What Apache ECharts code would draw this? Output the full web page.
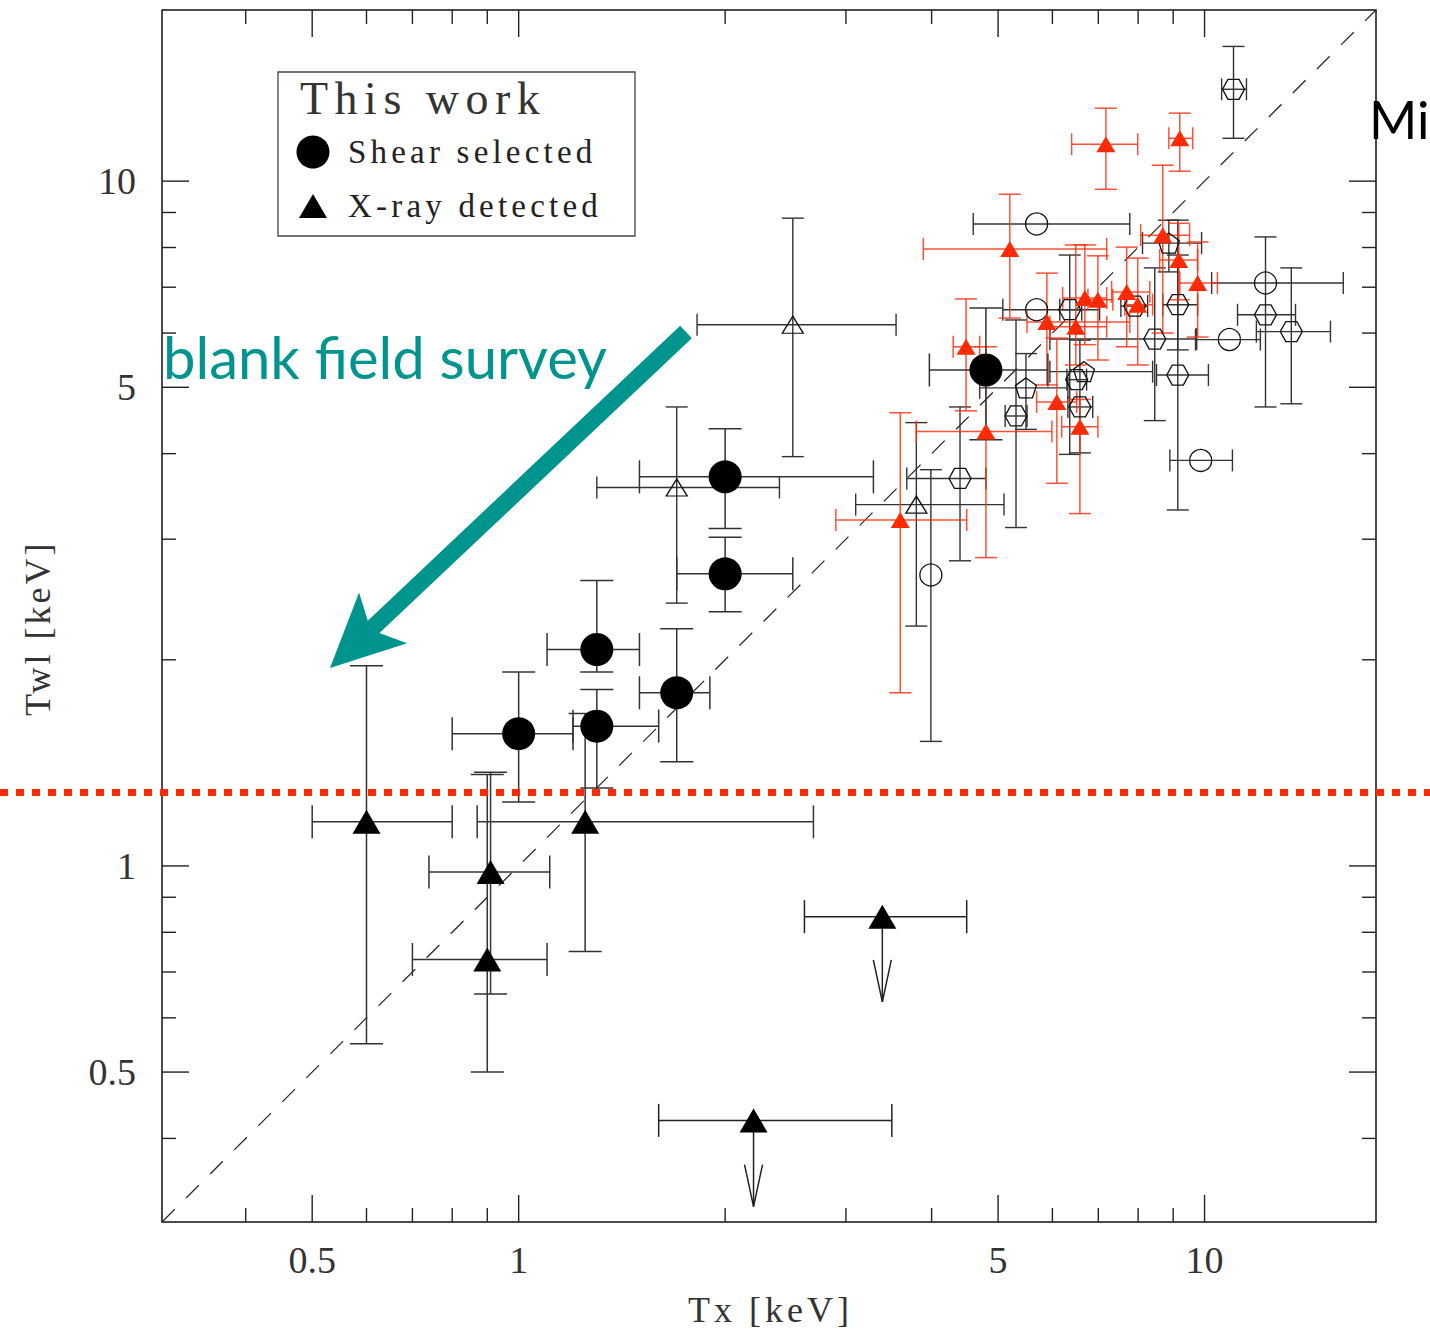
<!DOCTYPE html>
<html>
<head>
<meta charset="utf-8">
<title>Twl vs Tx</title>
<script src="https://cdn.jsdelivr.net/npm/echarts@6/dist/echarts.min.js"></script>
<style>
  html, body { margin: 0; padding: 0; background: #fff; }
  #chart { width: 1430px; height: 1337px; }
</style>
</head>
<body>
<div id="chart"></div>
<script>
// Rows: [Tx, TxLow, TxHigh, Twl, TwlLow, TwlHigh] in keV; null = no bar drawn.
const shearSelected = [
  [4.80, 3.97, 5.91, 5.30, 4.19, 6.53],
  [2.00, 1.50, 3.29, 3.70, 3.11, 4.35],
  [2.00, 1.70, 2.51, 2.67, 2.35, 3.02],
  [1.30, 1.10, 1.50, 2.07, 1.92, 2.61],
  [1.70, 1.50, 1.90, 1.79, 1.42, 2.22],
  [1.00, 0.80, 1.20, 1.56, 1.24, 1.92],
  [1.30, 1.20, 1.60, 1.60, 1.30, 1.81]
];
const xrayDetected = [
  [0.60, 0.50, 0.80, 1.16, 0.55, 1.96],
  [0.91, 0.74, 1.11, 0.98, 0.65, 1.37],
  [0.90, 0.70, 1.10, 0.73, 0.50, 1.36],
  [1.25, 0.87, 2.69, 1.16, 0.75, 1.67]
];
// Upper limits on Twl: [Tx, TxLow, TxHigh, Twl limit, arrow tip]
const xrayLimits = [
  [3.39, 2.61, 4.50, 0.843, 0.633],
  [2.20, 1.60, 3.50, 0.425, 0.318]
];

// Comparison samples
const openTriangles = [
  [2.51, 1.82, 3.55, 6.17, 3.96, 8.83],
  [1.70, 1.30, 2.40, 3.57, 2.42, 4.68],
  [3.80, 3.10, 5.10, 3.37, 2.24, 4.44]
];
const openCircles = [
  [3.99, null, null, 2.66, 1.52, 3.79],
  [5.69, 4.60, 7.78, 8.66, null, null],
  [5.69, 5.08, 7.03, 6.49, null, null],
  [10.87, 9.70, 12.06, 5.87, null, null],
  [12.27, 10.24, 15.93, 7.10, 4.68, 8.29],
  [9.87, 8.90, 10.98, 3.91, null, null]
];
const openHexagons = [
  [4.40, 3.68, 4.80, 3.68, 2.79, 4.68],
  [12.27, 11.17, 13.57, 6.38, null, null],
  [13.38, 11.90, 15.26, 6.03, 4.73, 7.47],
  [11.02, 10.59, 11.51, 13.62, 11.55, 15.73],
  [9.14, 8.51, 10.13, 5.21, 3.31, 7.80],
  [9.14, 8.69, 9.77, 6.60, 5.67, 8.77],
  [8.46, 5.95, 9.74, 5.88, 4.47, 7.47],
  [6.36, 6.15, 6.62, 6.49, 3.99, 7.80],
  [7.91, 7.55, 8.26, 6.57, null, null],
  [5.31, 5.12, 5.51, 4.54, 3.12, 6.27],
  [6.58, 6.32, 6.87, 4.68, 4.01, 5.86],
  [6.51, 6.30, 6.73, 5.13, null, null]
];
const openPentagons = [
  [8.87, 8.12, 9.90, 8.12, 7.37, 8.77],
  [5.49, 4.70, 6.32, 4.99, 4.34, 5.60],
  [6.67, 5.95, 8.40, 5.27, null, null]
];
const redTriangles = [
  [7.18, 6.40, 7.99, 11.32, 9.73, 12.78],
  [9.20, 8.87, 9.61, 11.55, 10.34, 12.57],
  [5.20, 3.89, 7.20, 7.96, 6.31, 9.57],
  [8.69, 8.07, 9.51, 8.34, 6.00, 10.55],
  [9.17, 8.60, 9.77, 7.67, 6.71, 8.68],
  [9.77, 9.20, 10.44, 7.10, 5.92, 8.15],
  [7.70, 7.32, 8.32, 6.89, 5.73, 8.01],
  [7.99, 7.65, 8.40, 6.60, 5.39, 7.72],
  [6.69, 6.21, 7.20, 6.75, 5.77, 8.07],
  [6.99, 6.76, 7.35, 6.71, 5.48, 7.78],
  [5.89, 5.51, 7.78, 6.23, 5.04, 7.34],
  [6.49, 5.95, 7.20, 6.13, 5.39, 8.07],
  [4.49, 4.30, 4.70, 5.73, 4.62, 6.73],
  [6.09, 5.69, 6.51, 4.76, 3.62, 5.90],
  [6.58, 6.19, 6.99, 4.38, 3.27, 4.80],
  [4.80, 3.80, 5.99, 4.31, 2.82, 5.73],
  [3.60, 2.90, 4.50, 3.20, 1.79, 4.59]
];

// Axis range (keV, both axes) and ticks
const axisRange = [0.302, 17.78];
const tickMajor = [0.5, 1, 5, 10];
const tickLabels = ['0.5', '1', '5', '10'];
const tickMinor = [0.4, 0.6, 0.7, 0.8, 0.9, 2, 3, 4, 6, 7, 8, 9];
// Twl level of the dotted red line
const twlThreshold = [1.28];

const RED = '#ff2a00';
const TEAL = '#00948f';
const SERIF = '"Liberation Serif", "DejaVu Serif", serif';
const SANS = 'Lato, "Open Sans", sans-serif';
const [lo, hi] = axisRange;

function errorBarSeries(rows, color, cap, width) {
  return {
    type: 'custom',
    silent: true,
    clip: false,
    data: rows.map(r => [r[0], r[3]]),
    encode: { x: 0, y: 1 },
    renderItem(params, api) {
      const r = rows[params.dataIndex];
      const style = { stroke: color, lineWidth: width, fill: null };
      const kids = [];
      const h = cap / 2;
      if (r[1] != null) {
        const a = api.coord([r[1], r[3]]), b = api.coord([r[2], r[3]]);
        kids.push({ type: 'line', shape: { x1: a[0], y1: a[1], x2: b[0], y2: b[1] }, style });
        kids.push({ type: 'line', shape: { x1: a[0], y1: a[1] - h, x2: a[0], y2: a[1] + h }, style });
        kids.push({ type: 'line', shape: { x1: b[0], y1: b[1] - h, x2: b[0], y2: b[1] + h }, style });
      }
      if (r[4] != null) {
        const a = api.coord([r[0], r[4]]), b = api.coord([r[0], r[5]]);
        kids.push({ type: 'line', shape: { x1: a[0], y1: a[1], x2: b[0], y2: b[1] }, style });
        kids.push({ type: 'line', shape: { x1: a[0] - h, y1: a[1], x2: a[0] + h, y2: a[1] }, style });
        kids.push({ type: 'line', shape: { x1: b[0] - h, y1: b[1], x2: b[0] + h, y2: b[1] }, style });
      }
      return { type: 'group', children: kids };
    }
  };
}

function markerSeries(name, rows, symbol, size, fill, stroke) {
  return {
    name,
    type: 'scatter',
    silent: true,
    clip: false,
    symbol,
    symbolSize: size,
    data: rows.map(r => [r[0], r[3]]),
    itemStyle: { color: fill, borderColor: stroke, borderWidth: stroke ? 1.3 : 0, opacity: 1 },
    emphasis: { disabled: true }
  };
}

const HEXAGON = 'path://M-1,0 L-0.5,-0.866 L0.5,-0.866 L1,0 L0.5,0.866 L-0.5,0.866 Z';
const PENTAGON = 'path://M0,-1 L0.951,-0.309 L0.588,0.809 L-0.588,0.809 L-0.951,-0.309 Z';

// Upper-limit arrows with Tx error bars
const limitSeries = {
  type: 'custom',
  silent: true,
  clip: false,
  data: xrayLimits.map(r => [r[0], r[3]]),
  encode: { x: 0, y: 1 },
  renderItem(params, api) {
    const r = xrayLimits[params.dataIndex];
    const style = { stroke: '#222', lineWidth: 1.5, fill: null };
    const p = api.coord([r[0], r[3]]);
    const t = api.coord([r[0], r[4]]);
    const a = api.coord([r[1], r[3]]), b = api.coord([r[2], r[3]]);
    return {
      type: 'group',
      children: [
        { type: 'line', shape: { x1: a[0], y1: a[1], x2: b[0], y2: b[1] }, style },
        { type: 'line', shape: { x1: a[0], y1: a[1] - 16.5, x2: a[0], y2: a[1] + 16.5 }, style },
        { type: 'line', shape: { x1: b[0], y1: b[1] - 16.5, x2: b[0], y2: b[1] + 16.5 }, style },
        { type: 'line', shape: { x1: p[0], y1: p[1], x2: t[0], y2: t[1] }, style },
        { type: 'polyline', shape: { points: [[t[0] - 9, t[1] - 42], [t[0], t[1]], [t[0] + 9, t[1] - 42]] }, style }
      ]
    };
  }
};

// Dotted red line across the full page width
const thresholdSeries = {
  type: 'custom',
  silent: true,
  clip: false,
  z: 5,
  data: twlThreshold.map(v => [lo, v]),
  encode: { x: 0, y: 1 },
  renderItem(params, api) {
    const y = api.coord([lo, api.value(1)])[1];
    return {
      type: 'line',
      shape: { x1: 0, y1: y, x2: api.getWidth(), y2: y },
      style: { stroke: RED, lineWidth: 7, lineDash: [8, 8], lineCap: 'butt', fill: null }
    };
  }
};

// Inward ticks on all four sides plus bottom/left labels
const tickItems = tickMajor.map((v, i) => [v, v, 1, i]).concat(tickMinor.map(v => [v, v, 0, -1]));
const tickSeries = {
  type: 'custom',
  silent: true,
  clip: false,
  z: 6,
  data: tickItems,
  encode: { x: 0, y: 1 },
  renderItem(params, api) {
    const item = tickItems[params.dataIndex];
    const v = item[0], major = item[2] === 1;
    const len = major ? 27 : 14;
    const style = { stroke: '#222', lineWidth: 1.4, fill: null };
    const bt = api.coord([v, lo]), tp = api.coord([v, hi]);
    const lf = api.coord([lo, v]), rt = api.coord([hi, v]);
    const kids = [
      { type: 'line', shape: { x1: bt[0], y1: bt[1], x2: bt[0], y2: bt[1] - len }, style },
      { type: 'line', shape: { x1: tp[0], y1: tp[1], x2: tp[0], y2: tp[1] + len }, style },
      { type: 'line', shape: { x1: lf[0], y1: lf[1], x2: lf[0] + len, y2: lf[1] }, style },
      { type: 'line', shape: { x1: rt[0], y1: rt[1], x2: rt[0] - len, y2: rt[1] }, style }
    ];
    if (major) {
      const label = tickLabels[item[3]];
      const ts = { fill: '#333', font: '38px ' + SERIF };
      kids.push({ type: 'text', x: bt[0], y: bt[1] + 38, style: Object.assign({ text: label, align: 'center', verticalAlign: 'middle' }, ts) });
      kids.push({ type: 'text', x: lf[0] - 26, y: lf[1], style: Object.assign({ text: label, align: 'right', verticalAlign: 'middle' }, ts) });
    }
    return { type: 'group', children: kids };
  }
};

// Arrow toward the low-temperature corner
function arrowPoints(tail, tip, shaftHalf, headBack, headSide, notchBack) {
  const dx = tip[0] - tail[0], dy = tip[1] - tail[1];
  const L = Math.hypot(dx, dy);
  const d = [dx / L, dy / L], n = [-d[1], d[0]];
  const at = (base, back, side) => [base[0] - d[0] * back + n[0] * side, base[1] - d[1] * back + n[1] * side];
  return [
    [tail[0] + n[0] * shaftHalf, tail[1] + n[1] * shaftHalf],
    at(tip, notchBack, shaftHalf),
    at(tip, headBack, headSide),
    tip,
    at(tip, headBack, -headSide),
    at(tip, notchBack, -shaftHalf),
    [tail[0] - n[0] * shaftHalf, tail[1] - n[1] * shaftHalf]
  ];
}

const chart = echarts.init(document.getElementById('chart'), null, { renderer: 'svg' });

const option = {
  animation: false,
  backgroundColor: '#fff',
  grid: { left: 162, top: 10, right: 54, bottom: 115, show: true, borderColor: '#111', borderWidth: 1.5, backgroundColor: 'transparent' },
  xAxis: { type: 'log', logBase: 10, min: lo, max: hi, axisLine: { show: false }, axisTick: { show: false }, axisLabel: { show: false }, splitLine: { show: false } },
  yAxis: { type: 'log', logBase: 10, min: lo, max: hi, axisLine: { show: false }, axisTick: { show: false }, axisLabel: { show: false }, splitLine: { show: false } },
  series: [
    {
      type: 'line', silent: true, symbol: 'none', z: 1,
      data: [[lo, lo], [hi, hi]],
      lineStyle: { color: '#222', width: 1.2, type: [18, 16] }
    },
    errorBarSeries(openTriangles, '#333', 22, 1.4),
    errorBarSeries(openCircles, '#333', 22, 1.4),
    errorBarSeries(openHexagons, '#333', 22, 1.4),
    errorBarSeries(openPentagons, '#333', 22, 1.4),
    markerSeries('open triangles', openTriangles, 'triangle', [21, 17], 'rgba(0,0,0,0)', '#111'),
    markerSeries('open circles', openCircles, 'circle', 22, 'rgba(0,0,0,0)', '#111'),
    markerSeries('open hexagons', openHexagons, HEXAGON, [22, 20], 'rgba(0,0,0,0)', '#111'),
    markerSeries('open pentagons', openPentagons, PENTAGON, [21, 20], 'rgba(0,0,0,0)', '#111'),
    errorBarSeries(redTriangles, 'rgba(255,50,20,0.85)', 22, 1.5),
    markerSeries('red triangles', redTriangles, 'triangle', [19, 16], RED, null),
    errorBarSeries(xrayDetected, '#333', 33, 1.5),
    errorBarSeries(shearSelected, '#333', 33, 1.5),
    limitSeries,
    markerSeries('Shear selected', shearSelected, 'circle', 33, '#000', null),
    markerSeries('X-ray detected', xrayDetected, 'triangle', [28, 24], '#000', null),
    markerSeries('X-ray detected', xrayLimits, 'triangle', [28, 24], '#000', null),
    thresholdSeries,
    tickSeries
  ],
  graphic: [
    // legend box
    { type: 'rect', z: 20, shape: { x: 278, y: 72, width: 357, height: 164 }, style: { fill: '#fff', stroke: '#444', lineWidth: 1.3 } },
    { type: 'text', z: 21, x: 300, y: 98, style: { text: 'This work', font: '46px ' + SERIF, fill: '#333', verticalAlign: 'middle' } },
    { type: 'circle', z: 21, shape: { cx: 313, cy: 152, r: 16.5 }, style: { fill: '#000' } },
    { type: 'text', z: 21, x: 348, y: 152, style: { text: 'Shear selected', font: '33px ' + SERIF, fill: '#222', verticalAlign: 'middle' } },
    { type: 'polygon', z: 21, shape: { points: [[299, 218], [327, 218], [313, 194]] }, style: { fill: '#000' } },
    { type: 'text', z: 21, x: 348, y: 206, style: { text: 'X-ray detected', font: '33px ' + SERIF, fill: '#222', verticalAlign: 'middle' } },
    // axis titles
    { type: 'text', z: 21, x: 688, y: 1310, style: { text: 'Tx [keV]', font: '36px ' + SERIF, fill: '#333', verticalAlign: 'middle' } },
    { type: 'text', z: 21, x: 38, y: 716, rotation: Math.PI / 2, style: { text: 'Twl [keV]', font: '36px ' + SERIF, fill: '#333', verticalAlign: 'middle' } },
    // annotations
    { type: 'polygon', z: 22, shape: { points: arrowPoints([686, 332], [330, 668], 8.5, 73, 35, 60) }, style: { fill: TEAL } },
    { type: 'text', z: 22, x: 163, y: 356, style: { text: 'blank field survey', font: '58px ' + SANS, fill: TEAL, verticalAlign: 'middle' } },
    { type: 'text', z: 22, x: 1369, y: 119, style: { text: 'Mi', font: '52px ' + SANS, fill: '#000', verticalAlign: 'middle' } }
  ]
};

chart.setOption(option);

// Wide letter spacing for the plotting-package style labels
const letterSpacing = { 'This work': 6.5, 'Shear selected': 4.2, 'X-ray detected': 4.2, 'Tx [keV]': 4, 'Twl [keV]': 3 };
function applySpacing() {
  document.querySelectorAll('#chart text').forEach(t => {
    const s = letterSpacing[t.textContent];
    if (s) t.setAttribute('letter-spacing', s);
  });
}
applySpacing();
chart.on('finished', applySpacing);
</script>
</body>
</html>
